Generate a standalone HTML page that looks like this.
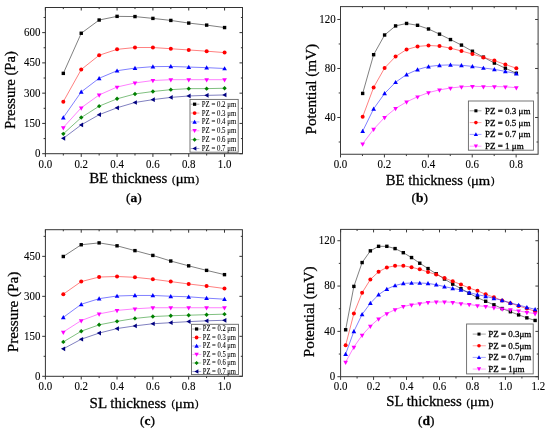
<!DOCTYPE html>
<html><head><meta charset="utf-8"><style>
html,body{margin:0;padding:0;background:#fff;}
body{width:550px;height:433px;overflow:hidden;}
svg{display:block;filter:blur(0.4px);}
text{stroke:#000;stroke-width:0.28px;}
.tk{stroke-width:0.1px;}
</style></head><body>
<svg width="550" height="433" viewBox="0 0 550 433" font-family='"Liberation Serif", serif' fill="#000">
<rect width="550" height="433" fill="#fff"/>
<rect x="45.40" y="7.50" width="197.10" height="146.20" fill="none" stroke="#333" stroke-width="1"/>
<path d="M45.40 153.70v3.2M45.40 7.50v3M81.24 153.70v3.2M81.24 7.50v3M117.07 153.70v3.2M117.07 7.50v3M152.91 153.70v3.2M152.91 7.50v3M188.75 153.70v3.2M188.75 7.50v3M224.58 153.70v3.2M224.58 7.50v3M63.32 153.70v1.8M63.32 7.50v1.6M99.15 153.70v1.8M99.15 7.50v1.6M134.99 153.70v1.8M134.99 7.50v1.6M170.83 153.70v1.8M170.83 7.50v1.6M206.66 153.70v1.8M206.66 7.50v1.6M45.40 153.70h-3.2M242.50 153.70h-3M45.40 123.43h-3.2M242.50 123.43h-3M45.40 93.16h-3.2M242.50 93.16h-3M45.40 62.89h-3.2M242.50 62.89h-3M45.40 32.62h-3.2M242.50 32.62h-3M45.40 138.57h-1.8M242.50 138.57h-1.6M45.40 108.30h-1.8M242.50 108.30h-1.6M45.40 78.03h-1.8M242.50 78.03h-1.6M45.40 47.76h-1.8M242.50 47.76h-1.6M45.40 17.49h-1.8M242.50 17.49h-1.6" stroke="#333" stroke-width="1" fill="none"/>
<text x="45.40" y="167.60" text-anchor="middle" font-size="11.5" textLength="13.66" lengthAdjust="spacingAndGlyphs" class="tk">0.0</text>
<text x="81.24" y="167.60" text-anchor="middle" font-size="11.5" textLength="13.66" lengthAdjust="spacingAndGlyphs" class="tk">0.2</text>
<text x="117.07" y="167.60" text-anchor="middle" font-size="11.5" textLength="13.66" lengthAdjust="spacingAndGlyphs" class="tk">0.4</text>
<text x="152.91" y="167.60" text-anchor="middle" font-size="11.5" textLength="13.66" lengthAdjust="spacingAndGlyphs" class="tk">0.6</text>
<text x="188.75" y="167.60" text-anchor="middle" font-size="11.5" textLength="13.66" lengthAdjust="spacingAndGlyphs" class="tk">0.8</text>
<text x="224.58" y="167.60" text-anchor="middle" font-size="11.5" textLength="13.66" lengthAdjust="spacingAndGlyphs" class="tk">1.0</text>
<text x="40.40" y="157.10" text-anchor="end" font-size="11.5" textLength="5.46" lengthAdjust="spacingAndGlyphs" class="tk">0</text>
<text x="40.40" y="126.83" text-anchor="end" font-size="11.5" textLength="16.39" lengthAdjust="spacingAndGlyphs" class="tk">150</text>
<text x="40.40" y="96.56" text-anchor="end" font-size="11.5" textLength="16.39" lengthAdjust="spacingAndGlyphs" class="tk">300</text>
<text x="40.40" y="66.29" text-anchor="end" font-size="11.5" textLength="16.39" lengthAdjust="spacingAndGlyphs" class="tk">450</text>
<text x="40.40" y="36.02" text-anchor="end" font-size="11.5" textLength="16.39" lengthAdjust="spacingAndGlyphs" class="tk">600</text>
<path d="M63.32 73.37L81.24 33.26L99.15 20.03L117.07 16.36L134.99 16.57L152.91 18.40L170.83 20.43L188.75 23.08L206.66 25.12L224.58 27.56" stroke="#000000" stroke-width="0.5" fill="none"/>
<rect x="61.62" y="71.67" width="3.40" height="3.40" fill="#000000"/>
<rect x="79.54" y="31.56" width="3.40" height="3.40" fill="#000000"/>
<rect x="97.45" y="18.33" width="3.40" height="3.40" fill="#000000"/>
<rect x="115.37" y="14.66" width="3.40" height="3.40" fill="#000000"/>
<rect x="133.29" y="14.87" width="3.40" height="3.40" fill="#000000"/>
<rect x="151.21" y="16.70" width="3.40" height="3.40" fill="#000000"/>
<rect x="169.13" y="18.73" width="3.40" height="3.40" fill="#000000"/>
<rect x="187.05" y="21.38" width="3.40" height="3.40" fill="#000000"/>
<rect x="204.96" y="23.42" width="3.40" height="3.40" fill="#000000"/>
<rect x="222.88" y="25.86" width="3.40" height="3.40" fill="#000000"/>
<path d="M63.32 101.68L81.24 69.51L99.15 55.25L117.07 49.35L134.99 47.52L152.91 47.52L170.83 48.74L188.75 49.96L206.66 51.18L224.58 52.61" stroke="#ff0000" stroke-width="0.5" fill="none"/>
<circle cx="63.32" cy="101.68" r="2.00" fill="#ff0000"/>
<circle cx="81.24" cy="69.51" r="2.00" fill="#ff0000"/>
<circle cx="99.15" cy="55.25" r="2.00" fill="#ff0000"/>
<circle cx="117.07" cy="49.35" r="2.00" fill="#ff0000"/>
<circle cx="134.99" cy="47.52" r="2.00" fill="#ff0000"/>
<circle cx="152.91" cy="47.52" r="2.00" fill="#ff0000"/>
<circle cx="170.83" cy="48.74" r="2.00" fill="#ff0000"/>
<circle cx="188.75" cy="49.96" r="2.00" fill="#ff0000"/>
<circle cx="206.66" cy="51.18" r="2.00" fill="#ff0000"/>
<circle cx="224.58" cy="52.61" r="2.00" fill="#ff0000"/>
<path d="M63.32 117.56L81.24 91.90L99.15 78.26L117.07 70.73L134.99 68.08L152.91 66.65L170.83 66.45L188.75 67.06L206.66 67.67L224.58 68.49" stroke="#0000ff" stroke-width="0.5" fill="none"/>
<path d="M63.32 115.21L65.67 119.44L60.97 119.44Z" fill="#0000ff"/>
<path d="M81.24 89.55L83.59 93.78L78.89 93.78Z" fill="#0000ff"/>
<path d="M99.15 75.91L101.50 80.14L96.80 80.14Z" fill="#0000ff"/>
<path d="M117.07 68.38L119.42 72.61L114.72 72.61Z" fill="#0000ff"/>
<path d="M134.99 65.73L137.34 69.96L132.64 69.96Z" fill="#0000ff"/>
<path d="M152.91 64.30L155.26 68.53L150.56 68.53Z" fill="#0000ff"/>
<path d="M170.83 64.10L173.18 68.33L168.48 68.33Z" fill="#0000ff"/>
<path d="M188.75 64.71L191.10 68.94L186.40 68.94Z" fill="#0000ff"/>
<path d="M206.66 65.32L209.01 69.55L204.31 69.55Z" fill="#0000ff"/>
<path d="M224.58 66.14L226.93 70.37L222.23 70.37Z" fill="#0000ff"/>
<path d="M63.32 127.53L81.24 107.78L99.15 94.96L117.07 87.02L134.99 82.94L152.91 80.50L170.83 79.69L188.75 79.69L206.66 79.69L224.58 79.69" stroke="#ff00ff" stroke-width="0.5" fill="none"/>
<path d="M63.32 130.38L65.67 126.15L60.97 126.15Z" fill="#ff00ff"/>
<path d="M81.24 110.63L83.59 106.40L78.89 106.40Z" fill="#ff00ff"/>
<path d="M99.15 97.81L101.50 93.58L96.80 93.58Z" fill="#ff00ff"/>
<path d="M117.07 89.87L119.42 85.64L114.72 85.64Z" fill="#ff00ff"/>
<path d="M134.99 85.79L137.34 81.56L132.64 81.56Z" fill="#ff00ff"/>
<path d="M152.91 83.35L155.26 79.12L150.56 79.12Z" fill="#ff00ff"/>
<path d="M170.83 82.54L173.18 78.31L168.48 78.31Z" fill="#ff00ff"/>
<path d="M188.75 82.54L191.10 78.31L186.40 78.31Z" fill="#ff00ff"/>
<path d="M206.66 82.54L209.01 78.31L204.31 78.31Z" fill="#ff00ff"/>
<path d="M224.58 82.54L226.93 78.31L222.23 78.31Z" fill="#ff00ff"/>
<path d="M63.32 133.85L81.24 117.56L99.15 106.16L117.07 98.83L134.99 93.94L152.91 91.50L170.83 89.66L188.75 88.64L206.66 88.64L224.58 88.24" stroke="#008000" stroke-width="0.5" fill="none"/>
<path d="M63.32 131.65L65.52 133.85L63.32 136.05L61.12 133.85Z" fill="#008000"/>
<path d="M81.24 115.36L83.44 117.56L81.24 119.76L79.04 117.56Z" fill="#008000"/>
<path d="M99.15 103.95L101.35 106.16L99.15 108.36L96.95 106.16Z" fill="#008000"/>
<path d="M117.07 96.62L119.27 98.83L117.07 101.03L114.87 98.83Z" fill="#008000"/>
<path d="M134.99 91.74L137.19 93.94L134.99 96.14L132.79 93.94Z" fill="#008000"/>
<path d="M152.91 89.30L155.11 91.50L152.91 93.70L150.71 91.50Z" fill="#008000"/>
<path d="M170.83 87.46L173.03 89.66L170.83 91.86L168.63 89.66Z" fill="#008000"/>
<path d="M188.75 86.44L190.95 88.64L188.75 90.84L186.55 88.64Z" fill="#008000"/>
<path d="M206.66 86.44L208.86 88.64L206.66 90.84L204.46 88.64Z" fill="#008000"/>
<path d="M224.58 86.04L226.78 88.24L224.58 90.44L222.38 88.24Z" fill="#008000"/>
<path d="M63.32 138.33L81.24 124.89L99.15 114.71L117.07 107.78L134.99 102.49L152.91 99.64L170.83 97.40L188.75 95.97L206.66 95.36L224.58 94.96" stroke="#000080" stroke-width="0.5" fill="none"/>
<path d="M60.97 138.33L65.20 135.98L65.20 140.68Z" fill="#000080"/>
<path d="M78.89 124.89L83.12 122.54L83.12 127.24Z" fill="#000080"/>
<path d="M96.80 114.71L101.03 112.36L101.03 117.06Z" fill="#000080"/>
<path d="M114.72 107.78L118.95 105.43L118.95 110.13Z" fill="#000080"/>
<path d="M132.64 102.49L136.87 100.14L136.87 104.84Z" fill="#000080"/>
<path d="M150.56 99.64L154.79 97.29L154.79 101.99Z" fill="#000080"/>
<path d="M168.48 97.40L172.71 95.05L172.71 99.75Z" fill="#000080"/>
<path d="M186.40 95.97L190.63 93.62L190.63 98.32Z" fill="#000080"/>
<path d="M204.31 95.36L208.54 93.01L208.54 97.71Z" fill="#000080"/>
<path d="M222.23 94.96L226.46 92.61L226.46 97.31Z" fill="#000080"/>
<rect x="45.40" y="229.70" width="197.00" height="146.60" fill="none" stroke="#333" stroke-width="1"/>
<path d="M45.40 376.30v3.2M45.40 229.70v3M81.22 376.30v3.2M81.22 229.70v3M117.04 376.30v3.2M117.04 229.70v3M152.85 376.30v3.2M152.85 229.70v3M188.67 376.30v3.2M188.67 229.70v3M224.49 376.30v3.2M224.49 229.70v3M63.31 376.30v1.8M63.31 229.70v1.6M99.13 376.30v1.8M99.13 229.70v1.6M134.95 376.30v1.8M134.95 229.70v1.6M170.76 376.30v1.8M170.76 229.70v1.6M206.58 376.30v1.8M206.58 229.70v1.6M45.40 376.30h-3.2M242.40 376.30h-3M45.40 336.32h-3.2M242.40 336.32h-3M45.40 296.34h-3.2M242.40 296.34h-3M45.40 256.35h-3.2M242.40 256.35h-3M45.40 356.31h-1.8M242.40 356.31h-1.6M45.40 316.33h-1.8M242.40 316.33h-1.6M45.40 276.35h-1.8M242.40 276.35h-1.6M45.40 236.36h-1.8M242.40 236.36h-1.6" stroke="#333" stroke-width="1" fill="none"/>
<text x="45.40" y="390.20" text-anchor="middle" font-size="11.5" textLength="13.66" lengthAdjust="spacingAndGlyphs" class="tk">0.0</text>
<text x="81.22" y="390.20" text-anchor="middle" font-size="11.5" textLength="13.66" lengthAdjust="spacingAndGlyphs" class="tk">0.2</text>
<text x="117.04" y="390.20" text-anchor="middle" font-size="11.5" textLength="13.66" lengthAdjust="spacingAndGlyphs" class="tk">0.4</text>
<text x="152.85" y="390.20" text-anchor="middle" font-size="11.5" textLength="13.66" lengthAdjust="spacingAndGlyphs" class="tk">0.6</text>
<text x="188.67" y="390.20" text-anchor="middle" font-size="11.5" textLength="13.66" lengthAdjust="spacingAndGlyphs" class="tk">0.8</text>
<text x="224.49" y="390.20" text-anchor="middle" font-size="11.5" textLength="13.66" lengthAdjust="spacingAndGlyphs" class="tk">1.0</text>
<text x="40.40" y="379.70" text-anchor="end" font-size="11.5" textLength="5.46" lengthAdjust="spacingAndGlyphs" class="tk">0</text>
<text x="40.40" y="339.72" text-anchor="end" font-size="11.5" textLength="16.39" lengthAdjust="spacingAndGlyphs" class="tk">150</text>
<text x="40.40" y="299.74" text-anchor="end" font-size="11.5" textLength="16.39" lengthAdjust="spacingAndGlyphs" class="tk">300</text>
<text x="40.40" y="259.75" text-anchor="end" font-size="11.5" textLength="16.39" lengthAdjust="spacingAndGlyphs" class="tk">450</text>
<path d="M63.31 256.49L81.22 244.75L99.13 242.88L117.04 245.81L134.95 250.62L152.85 255.42L170.76 261.03L188.67 265.83L206.58 270.37L224.49 274.64" stroke="#000000" stroke-width="0.5" fill="none"/>
<rect x="61.61" y="254.79" width="3.40" height="3.40" fill="#000000"/>
<rect x="79.52" y="243.05" width="3.40" height="3.40" fill="#000000"/>
<rect x="97.43" y="241.18" width="3.40" height="3.40" fill="#000000"/>
<rect x="115.34" y="244.11" width="3.40" height="3.40" fill="#000000"/>
<rect x="133.25" y="248.92" width="3.40" height="3.40" fill="#000000"/>
<rect x="151.15" y="253.72" width="3.40" height="3.40" fill="#000000"/>
<rect x="169.06" y="259.33" width="3.40" height="3.40" fill="#000000"/>
<rect x="186.97" y="264.13" width="3.40" height="3.40" fill="#000000"/>
<rect x="204.88" y="268.67" width="3.40" height="3.40" fill="#000000"/>
<rect x="222.79" y="272.94" width="3.40" height="3.40" fill="#000000"/>
<path d="M63.31 294.13L81.22 281.58L99.13 277.04L117.04 276.51L134.95 277.31L152.85 279.18L170.76 281.58L188.67 283.98L206.58 286.12L224.49 288.52" stroke="#ff0000" stroke-width="0.5" fill="none"/>
<circle cx="63.31" cy="294.13" r="2.00" fill="#ff0000"/>
<circle cx="81.22" cy="281.58" r="2.00" fill="#ff0000"/>
<circle cx="99.13" cy="277.04" r="2.00" fill="#ff0000"/>
<circle cx="117.04" cy="276.51" r="2.00" fill="#ff0000"/>
<circle cx="134.95" cy="277.31" r="2.00" fill="#ff0000"/>
<circle cx="152.85" cy="279.18" r="2.00" fill="#ff0000"/>
<circle cx="170.76" cy="281.58" r="2.00" fill="#ff0000"/>
<circle cx="188.67" cy="283.98" r="2.00" fill="#ff0000"/>
<circle cx="206.58" cy="286.12" r="2.00" fill="#ff0000"/>
<circle cx="224.49" cy="288.52" r="2.00" fill="#ff0000"/>
<path d="M63.31 317.35L81.22 304.27L99.13 298.66L117.04 295.99L134.95 295.46L152.85 295.46L170.76 296.26L188.67 296.79L206.58 298.13L224.49 299.20" stroke="#0000ff" stroke-width="0.5" fill="none"/>
<path d="M63.31 315.00L65.66 319.23L60.96 319.23Z" fill="#0000ff"/>
<path d="M81.22 301.92L83.57 306.15L78.87 306.15Z" fill="#0000ff"/>
<path d="M99.13 296.31L101.48 300.54L96.78 300.54Z" fill="#0000ff"/>
<path d="M117.04 293.64L119.39 297.87L114.69 297.87Z" fill="#0000ff"/>
<path d="M134.95 293.11L137.30 297.34L132.60 297.34Z" fill="#0000ff"/>
<path d="M152.85 293.11L155.20 297.34L150.50 297.34Z" fill="#0000ff"/>
<path d="M170.76 293.91L173.11 298.14L168.41 298.14Z" fill="#0000ff"/>
<path d="M188.67 294.44L191.02 298.67L186.32 298.67Z" fill="#0000ff"/>
<path d="M206.58 295.78L208.93 300.01L204.23 300.01Z" fill="#0000ff"/>
<path d="M224.49 296.85L226.84 301.08L222.14 301.08Z" fill="#0000ff"/>
<path d="M63.31 332.03L81.22 320.55L99.13 313.88L117.04 310.41L134.95 308.81L152.85 307.74L170.76 307.74L188.67 307.74L206.58 307.74L224.49 307.74" stroke="#ff00ff" stroke-width="0.5" fill="none"/>
<path d="M63.31 334.88L65.66 330.65L60.96 330.65Z" fill="#ff00ff"/>
<path d="M81.22 323.40L83.57 319.17L78.87 319.17Z" fill="#ff00ff"/>
<path d="M99.13 316.73L101.48 312.50L96.78 312.50Z" fill="#ff00ff"/>
<path d="M117.04 313.26L119.39 309.03L114.69 309.03Z" fill="#ff00ff"/>
<path d="M134.95 311.66L137.30 307.43L132.60 307.43Z" fill="#ff00ff"/>
<path d="M152.85 310.59L155.20 306.36L150.50 306.36Z" fill="#ff00ff"/>
<path d="M170.76 310.59L173.11 306.36L168.41 306.36Z" fill="#ff00ff"/>
<path d="M188.67 310.59L191.02 306.36L186.32 306.36Z" fill="#ff00ff"/>
<path d="M206.58 310.59L208.93 306.36L204.23 306.36Z" fill="#ff00ff"/>
<path d="M224.49 310.59L226.84 306.36L222.14 306.36Z" fill="#ff00ff"/>
<path d="M63.31 341.90L81.22 331.23L99.13 324.82L117.04 321.35L134.95 318.41L152.85 316.55L170.76 315.74L188.67 315.21L206.58 314.68L224.49 314.14" stroke="#008000" stroke-width="0.5" fill="none"/>
<path d="M63.31 339.70L65.51 341.90L63.31 344.10L61.11 341.90Z" fill="#008000"/>
<path d="M81.22 329.03L83.42 331.23L81.22 333.43L79.02 331.23Z" fill="#008000"/>
<path d="M99.13 322.62L101.33 324.82L99.13 327.02L96.93 324.82Z" fill="#008000"/>
<path d="M117.04 319.15L119.24 321.35L117.04 323.55L114.84 321.35Z" fill="#008000"/>
<path d="M134.95 316.21L137.15 318.41L134.95 320.61L132.75 318.41Z" fill="#008000"/>
<path d="M152.85 314.35L155.05 316.55L152.85 318.75L150.65 316.55Z" fill="#008000"/>
<path d="M170.76 313.54L172.96 315.74L170.76 317.94L168.56 315.74Z" fill="#008000"/>
<path d="M188.67 313.01L190.87 315.21L188.67 317.41L186.47 315.21Z" fill="#008000"/>
<path d="M206.58 312.48L208.78 314.68L206.58 316.88L204.38 314.68Z" fill="#008000"/>
<path d="M224.49 311.94L226.69 314.14L224.49 316.34L222.29 314.14Z" fill="#008000"/>
<path d="M63.31 348.84L81.22 339.23L99.13 333.09L117.04 328.56L134.95 325.89L152.85 323.75L170.76 322.68L188.67 321.62L206.58 320.82L224.49 320.28" stroke="#000080" stroke-width="0.5" fill="none"/>
<path d="M60.96 348.84L65.19 346.49L65.19 351.19Z" fill="#000080"/>
<path d="M78.87 339.23L83.10 336.88L83.10 341.58Z" fill="#000080"/>
<path d="M96.78 333.09L101.01 330.74L101.01 335.44Z" fill="#000080"/>
<path d="M114.69 328.56L118.92 326.21L118.92 330.91Z" fill="#000080"/>
<path d="M132.60 325.89L136.83 323.54L136.83 328.24Z" fill="#000080"/>
<path d="M150.50 323.75L154.73 321.40L154.73 326.10Z" fill="#000080"/>
<path d="M168.41 322.68L172.64 320.33L172.64 325.03Z" fill="#000080"/>
<path d="M186.32 321.62L190.55 319.27L190.55 323.97Z" fill="#000080"/>
<path d="M204.23 320.82L208.46 318.47L208.46 323.17Z" fill="#000080"/>
<path d="M222.14 320.28L226.37 317.93L226.37 322.63Z" fill="#000080"/>
<rect x="340.50" y="6.60" width="197.60" height="147.65" fill="none" stroke="#3a3a3a" stroke-width="1"/>
<path d="M340.50 154.25v3.2M340.50 6.60v3M384.41 154.25v3.2M384.41 6.60v3M428.32 154.25v3.2M428.32 6.60v3M472.23 154.25v3.2M472.23 6.60v3M516.14 154.25v3.2M516.14 6.60v3M362.46 154.25v1.8M362.46 6.60v1.6M406.37 154.25v1.8M406.37 6.60v1.6M450.28 154.25v1.8M450.28 6.60v1.6M494.19 154.25v1.8M494.19 6.60v1.6M340.50 117.49h-3.2M538.10 117.49h-3M340.50 68.48h-3.2M538.10 68.48h-3M340.50 19.47h-3.2M538.10 19.47h-3M340.50 142.00h-1.8M538.10 142.00h-1.6M340.50 92.98h-1.8M538.10 92.98h-1.6M340.50 43.97h-1.8M538.10 43.97h-1.6" stroke="#3a3a3a" stroke-width="1" fill="none"/>
<text x="340.50" y="168.00" text-anchor="middle" font-size="11.5" textLength="13.66" lengthAdjust="spacingAndGlyphs" class="tk">0.0</text>
<text x="384.41" y="168.00" text-anchor="middle" font-size="11.5" textLength="13.66" lengthAdjust="spacingAndGlyphs" class="tk">0.2</text>
<text x="428.32" y="168.00" text-anchor="middle" font-size="11.5" textLength="13.66" lengthAdjust="spacingAndGlyphs" class="tk">0.4</text>
<text x="472.23" y="168.00" text-anchor="middle" font-size="11.5" textLength="13.66" lengthAdjust="spacingAndGlyphs" class="tk">0.6</text>
<text x="516.14" y="168.00" text-anchor="middle" font-size="11.5" textLength="13.66" lengthAdjust="spacingAndGlyphs" class="tk">0.8</text>
<text x="335.60" y="120.89" text-anchor="end" font-size="11.5" textLength="10.92" lengthAdjust="spacingAndGlyphs" class="tk">40</text>
<text x="335.60" y="71.88" text-anchor="end" font-size="11.5" textLength="10.92" lengthAdjust="spacingAndGlyphs" class="tk">80</text>
<text x="335.60" y="22.87" text-anchor="end" font-size="11.5" textLength="16.39" lengthAdjust="spacingAndGlyphs" class="tk">120</text>
<path d="M362.66 93.44L373.63 54.69L384.61 35.01L395.59 25.91L406.57 23.45L417.54 25.30L428.52 28.99L439.50 34.15L450.48 39.56L461.46 45.10L472.43 51.25L483.41 57.15L494.39 63.06L505.37 68.22L516.34 73.27" stroke="#000000" stroke-width="0.5" fill="none"/>
<rect x="360.96" y="91.74" width="3.40" height="3.40" fill="#000000"/>
<rect x="371.93" y="52.99" width="3.40" height="3.40" fill="#000000"/>
<rect x="382.91" y="33.31" width="3.40" height="3.40" fill="#000000"/>
<rect x="393.89" y="24.21" width="3.40" height="3.40" fill="#000000"/>
<rect x="404.87" y="21.75" width="3.40" height="3.40" fill="#000000"/>
<rect x="415.84" y="23.60" width="3.40" height="3.40" fill="#000000"/>
<rect x="426.82" y="27.29" width="3.40" height="3.40" fill="#000000"/>
<rect x="437.80" y="32.45" width="3.40" height="3.40" fill="#000000"/>
<rect x="448.78" y="37.86" width="3.40" height="3.40" fill="#000000"/>
<rect x="459.76" y="43.40" width="3.40" height="3.40" fill="#000000"/>
<rect x="470.73" y="49.55" width="3.40" height="3.40" fill="#000000"/>
<rect x="481.71" y="55.45" width="3.40" height="3.40" fill="#000000"/>
<rect x="492.69" y="61.36" width="3.40" height="3.40" fill="#000000"/>
<rect x="503.67" y="66.52" width="3.40" height="3.40" fill="#000000"/>
<rect x="514.64" y="71.57" width="3.40" height="3.40" fill="#000000"/>
<path d="M362.66 116.81L373.63 87.41L384.61 67.98L395.59 56.54L406.57 49.53L417.54 46.45L428.52 45.47L439.50 46.08L450.48 48.17L461.46 51.00L472.43 54.08L483.41 57.40L494.39 60.60L505.37 64.53L516.34 68.22" stroke="#ff0000" stroke-width="0.5" fill="none"/>
<circle cx="362.66" cy="116.81" r="2.00" fill="#ff0000"/>
<circle cx="373.63" cy="87.41" r="2.00" fill="#ff0000"/>
<circle cx="384.61" cy="67.98" r="2.00" fill="#ff0000"/>
<circle cx="395.59" cy="56.54" r="2.00" fill="#ff0000"/>
<circle cx="406.57" cy="49.53" r="2.00" fill="#ff0000"/>
<circle cx="417.54" cy="46.45" r="2.00" fill="#ff0000"/>
<circle cx="428.52" cy="45.47" r="2.00" fill="#ff0000"/>
<circle cx="439.50" cy="46.08" r="2.00" fill="#ff0000"/>
<circle cx="450.48" cy="48.17" r="2.00" fill="#ff0000"/>
<circle cx="461.46" cy="51.00" r="2.00" fill="#ff0000"/>
<circle cx="472.43" cy="54.08" r="2.00" fill="#ff0000"/>
<circle cx="483.41" cy="57.40" r="2.00" fill="#ff0000"/>
<circle cx="494.39" cy="60.60" r="2.00" fill="#ff0000"/>
<circle cx="505.37" cy="64.53" r="2.00" fill="#ff0000"/>
<circle cx="516.34" cy="68.22" r="2.00" fill="#ff0000"/>
<path d="M362.66 131.20L373.63 108.81L384.61 93.44L395.59 82.24L406.57 74.50L417.54 69.58L428.52 66.50L439.50 65.27L450.48 64.90L461.46 65.27L472.43 66.38L483.41 67.98L494.39 69.33L505.37 71.42L516.34 73.51" stroke="#0000ff" stroke-width="0.5" fill="none"/>
<path d="M362.66 128.85L365.01 133.08L360.31 133.08Z" fill="#0000ff"/>
<path d="M373.63 106.46L375.98 110.69L371.28 110.69Z" fill="#0000ff"/>
<path d="M384.61 91.09L386.96 95.32L382.26 95.32Z" fill="#0000ff"/>
<path d="M395.59 79.89L397.94 84.12L393.24 84.12Z" fill="#0000ff"/>
<path d="M406.57 72.15L408.92 76.38L404.22 76.38Z" fill="#0000ff"/>
<path d="M417.54 67.23L419.89 71.46L415.19 71.46Z" fill="#0000ff"/>
<path d="M428.52 64.15L430.87 68.38L426.17 68.38Z" fill="#0000ff"/>
<path d="M439.50 62.92L441.85 67.15L437.15 67.15Z" fill="#0000ff"/>
<path d="M450.48 62.55L452.83 66.78L448.13 66.78Z" fill="#0000ff"/>
<path d="M461.46 62.92L463.81 67.15L459.11 67.15Z" fill="#0000ff"/>
<path d="M472.43 64.03L474.78 68.26L470.08 68.26Z" fill="#0000ff"/>
<path d="M483.41 65.63L485.76 69.86L481.06 69.86Z" fill="#0000ff"/>
<path d="M494.39 66.98L496.74 71.21L492.04 71.21Z" fill="#0000ff"/>
<path d="M505.37 69.07L507.72 73.30L503.02 73.30Z" fill="#0000ff"/>
<path d="M516.34 71.16L518.69 75.39L513.99 75.39Z" fill="#0000ff"/>
<path d="M362.66 143.87L373.63 129.23L384.61 117.42L395.59 108.44L406.57 101.92L417.54 96.76L428.52 92.58L439.50 89.87L450.48 88.03L461.46 86.80L472.43 86.30L483.41 86.55L494.39 86.55L505.37 86.80L516.34 87.66" stroke="#ff00ff" stroke-width="0.5" fill="none"/>
<path d="M362.66 146.72L365.01 142.49L360.31 142.49Z" fill="#ff00ff"/>
<path d="M373.63 132.08L375.98 127.85L371.28 127.85Z" fill="#ff00ff"/>
<path d="M384.61 120.27L386.96 116.04L382.26 116.04Z" fill="#ff00ff"/>
<path d="M395.59 111.29L397.94 107.06L393.24 107.06Z" fill="#ff00ff"/>
<path d="M406.57 104.77L408.92 100.54L404.22 100.54Z" fill="#ff00ff"/>
<path d="M417.54 99.61L419.89 95.38L415.19 95.38Z" fill="#ff00ff"/>
<path d="M428.52 95.43L430.87 91.20L426.17 91.20Z" fill="#ff00ff"/>
<path d="M439.50 92.72L441.85 88.49L437.15 88.49Z" fill="#ff00ff"/>
<path d="M450.48 90.88L452.83 86.65L448.13 86.65Z" fill="#ff00ff"/>
<path d="M461.46 89.65L463.81 85.42L459.11 85.42Z" fill="#ff00ff"/>
<path d="M472.43 89.15L474.78 84.92L470.08 84.92Z" fill="#ff00ff"/>
<path d="M483.41 89.40L485.76 85.17L481.06 85.17Z" fill="#ff00ff"/>
<path d="M494.39 89.40L496.74 85.17L492.04 85.17Z" fill="#ff00ff"/>
<path d="M505.37 89.65L507.72 85.42L503.02 85.42Z" fill="#ff00ff"/>
<path d="M516.34 90.51L518.69 86.28L513.99 86.28Z" fill="#ff00ff"/>
<rect x="340.60" y="229.40" width="197.80" height="147.30" fill="none" stroke="#3a3a3a" stroke-width="1"/>
<path d="M340.60 376.70v3.2M340.60 229.40v3M373.57 376.70v3.2M373.57 229.40v3M406.53 376.70v3.2M406.53 229.40v3M439.50 376.70v3.2M439.50 229.40v3M472.47 376.70v3.2M472.47 229.40v3M505.43 376.70v3.2M505.43 229.40v3M538.40 376.70v3.2M538.40 229.40v3M357.08 376.70v1.8M357.08 229.40v1.6M390.05 376.70v1.8M390.05 229.40v1.6M423.02 376.70v1.8M423.02 229.40v1.6M455.98 376.70v1.8M455.98 229.40v1.6M488.95 376.70v1.8M488.95 229.40v1.6M521.92 376.70v1.8M521.92 229.40v1.6M340.60 376.70h-3.2M538.40 376.70h-3M340.60 331.38h-3.2M538.40 331.38h-3M340.60 286.05h-3.2M538.40 286.05h-3M340.60 240.73h-3.2M538.40 240.73h-3M340.60 354.04h-1.8M538.40 354.04h-1.6M340.60 308.72h-1.8M538.40 308.72h-1.6M340.60 263.39h-1.8M538.40 263.39h-1.6" stroke="#3a3a3a" stroke-width="1" fill="none"/>
<text x="340.60" y="390.40" text-anchor="middle" font-size="11.5" textLength="13.66" lengthAdjust="spacingAndGlyphs" class="tk">0.0</text>
<text x="373.57" y="390.40" text-anchor="middle" font-size="11.5" textLength="13.66" lengthAdjust="spacingAndGlyphs" class="tk">0.2</text>
<text x="406.53" y="390.40" text-anchor="middle" font-size="11.5" textLength="13.66" lengthAdjust="spacingAndGlyphs" class="tk">0.4</text>
<text x="439.50" y="390.40" text-anchor="middle" font-size="11.5" textLength="13.66" lengthAdjust="spacingAndGlyphs" class="tk">0.6</text>
<text x="472.47" y="390.40" text-anchor="middle" font-size="11.5" textLength="13.66" lengthAdjust="spacingAndGlyphs" class="tk">0.8</text>
<text x="505.43" y="390.40" text-anchor="middle" font-size="11.5" textLength="13.66" lengthAdjust="spacingAndGlyphs" class="tk">1.0</text>
<text x="538.40" y="390.40" text-anchor="middle" font-size="11.5" textLength="13.66" lengthAdjust="spacingAndGlyphs" class="tk">1.2</text>
<text x="335.20" y="380.10" text-anchor="end" font-size="11.5" textLength="5.46" lengthAdjust="spacingAndGlyphs" class="tk">0</text>
<text x="335.20" y="334.78" text-anchor="end" font-size="11.5" textLength="10.92" lengthAdjust="spacingAndGlyphs" class="tk">40</text>
<text x="335.20" y="289.45" text-anchor="end" font-size="11.5" textLength="10.92" lengthAdjust="spacingAndGlyphs" class="tk">80</text>
<text x="335.20" y="244.13" text-anchor="end" font-size="11.5" textLength="16.39" lengthAdjust="spacingAndGlyphs" class="tk">120</text>
<path d="M345.64 329.77L353.88 286.40L362.12 262.55L370.36 250.86L378.59 246.32L386.83 246.32L395.07 248.59L403.31 252.68L411.54 257.56L419.78 263.23L428.02 268.57L436.25 273.79L444.49 279.02L452.73 284.13L460.97 288.67L469.20 293.21L477.44 297.64L485.68 301.27L493.92 304.79L502.15 308.54L510.39 311.72L518.63 314.89L526.87 317.85L535.11 320.46" stroke="#000000" stroke-width="0.5" fill="none"/>
<rect x="343.94" y="328.07" width="3.40" height="3.40" fill="#000000"/>
<rect x="352.18" y="284.70" width="3.40" height="3.40" fill="#000000"/>
<rect x="360.42" y="260.85" width="3.40" height="3.40" fill="#000000"/>
<rect x="368.66" y="249.16" width="3.40" height="3.40" fill="#000000"/>
<rect x="376.89" y="244.62" width="3.40" height="3.40" fill="#000000"/>
<rect x="385.13" y="244.62" width="3.40" height="3.40" fill="#000000"/>
<rect x="393.37" y="246.89" width="3.40" height="3.40" fill="#000000"/>
<rect x="401.61" y="250.98" width="3.40" height="3.40" fill="#000000"/>
<rect x="409.84" y="255.86" width="3.40" height="3.40" fill="#000000"/>
<rect x="418.08" y="261.53" width="3.40" height="3.40" fill="#000000"/>
<rect x="426.32" y="266.87" width="3.40" height="3.40" fill="#000000"/>
<rect x="434.56" y="272.09" width="3.40" height="3.40" fill="#000000"/>
<rect x="442.79" y="277.32" width="3.40" height="3.40" fill="#000000"/>
<rect x="451.03" y="282.43" width="3.40" height="3.40" fill="#000000"/>
<rect x="459.27" y="286.97" width="3.40" height="3.40" fill="#000000"/>
<rect x="467.50" y="291.51" width="3.40" height="3.40" fill="#000000"/>
<rect x="475.74" y="295.94" width="3.40" height="3.40" fill="#000000"/>
<rect x="483.98" y="299.57" width="3.40" height="3.40" fill="#000000"/>
<rect x="492.22" y="303.09" width="3.40" height="3.40" fill="#000000"/>
<rect x="500.45" y="306.84" width="3.40" height="3.40" fill="#000000"/>
<rect x="508.69" y="310.02" width="3.40" height="3.40" fill="#000000"/>
<rect x="516.93" y="313.19" width="3.40" height="3.40" fill="#000000"/>
<rect x="525.17" y="316.15" width="3.40" height="3.40" fill="#000000"/>
<rect x="533.40" y="318.76" width="3.40" height="3.40" fill="#000000"/>
<path d="M345.64 345.32L353.88 313.53L362.12 292.75L370.36 279.47L378.59 271.75L386.83 267.44L395.07 265.85L403.31 265.85L411.54 267.21L419.78 269.37L428.02 271.98L436.25 274.59L444.49 277.99L452.73 281.29L460.97 284.47L469.20 287.99L477.44 290.82L485.68 294.34L493.92 297.18L502.15 300.48L510.39 303.20L518.63 305.92L526.87 308.54L535.11 311.26" stroke="#ff0000" stroke-width="0.5" fill="none"/>
<circle cx="345.64" cy="345.32" r="2.00" fill="#ff0000"/>
<circle cx="353.88" cy="313.53" r="2.00" fill="#ff0000"/>
<circle cx="362.12" cy="292.75" r="2.00" fill="#ff0000"/>
<circle cx="370.36" cy="279.47" r="2.00" fill="#ff0000"/>
<circle cx="378.59" cy="271.75" r="2.00" fill="#ff0000"/>
<circle cx="386.83" cy="267.44" r="2.00" fill="#ff0000"/>
<circle cx="395.07" cy="265.85" r="2.00" fill="#ff0000"/>
<circle cx="403.31" cy="265.85" r="2.00" fill="#ff0000"/>
<circle cx="411.54" cy="267.21" r="2.00" fill="#ff0000"/>
<circle cx="419.78" cy="269.37" r="2.00" fill="#ff0000"/>
<circle cx="428.02" cy="271.98" r="2.00" fill="#ff0000"/>
<circle cx="436.25" cy="274.59" r="2.00" fill="#ff0000"/>
<circle cx="444.49" cy="277.99" r="2.00" fill="#ff0000"/>
<circle cx="452.73" cy="281.29" r="2.00" fill="#ff0000"/>
<circle cx="460.97" cy="284.47" r="2.00" fill="#ff0000"/>
<circle cx="469.20" cy="287.99" r="2.00" fill="#ff0000"/>
<circle cx="477.44" cy="290.82" r="2.00" fill="#ff0000"/>
<circle cx="485.68" cy="294.34" r="2.00" fill="#ff0000"/>
<circle cx="493.92" cy="297.18" r="2.00" fill="#ff0000"/>
<circle cx="502.15" cy="300.48" r="2.00" fill="#ff0000"/>
<circle cx="510.39" cy="303.20" r="2.00" fill="#ff0000"/>
<circle cx="518.63" cy="305.92" r="2.00" fill="#ff0000"/>
<circle cx="526.87" cy="308.54" r="2.00" fill="#ff0000"/>
<circle cx="535.11" cy="311.26" r="2.00" fill="#ff0000"/>
<path d="M345.64 354.07L353.88 331.36L362.12 314.44L370.36 303.20L378.59 294.68L386.83 289.01L395.07 285.49L403.31 283.44L411.54 282.99L419.78 282.99L428.02 283.44L436.25 284.69L444.49 286.62L452.73 288.33L460.97 289.92L469.20 292.53L477.44 294.68L485.68 296.27L493.92 298.43L502.15 300.36L510.39 302.86L518.63 305.02L526.87 307.29L535.11 309.33" stroke="#0000ff" stroke-width="0.5" fill="none"/>
<path d="M345.64 351.72L347.99 355.95L343.29 355.95Z" fill="#0000ff"/>
<path d="M353.88 329.01L356.23 333.24L351.53 333.24Z" fill="#0000ff"/>
<path d="M362.12 312.09L364.47 316.32L359.77 316.32Z" fill="#0000ff"/>
<path d="M370.36 300.85L372.71 305.08L368.00 305.08Z" fill="#0000ff"/>
<path d="M378.59 292.33L380.94 296.56L376.24 296.56Z" fill="#0000ff"/>
<path d="M386.83 286.66L389.18 290.89L384.48 290.89Z" fill="#0000ff"/>
<path d="M395.07 283.14L397.42 287.37L392.72 287.37Z" fill="#0000ff"/>
<path d="M403.31 281.09L405.66 285.32L400.95 285.32Z" fill="#0000ff"/>
<path d="M411.54 280.64L413.89 284.87L409.19 284.87Z" fill="#0000ff"/>
<path d="M419.78 280.64L422.13 284.87L417.43 284.87Z" fill="#0000ff"/>
<path d="M428.02 281.09L430.37 285.32L425.67 285.32Z" fill="#0000ff"/>
<path d="M436.25 282.34L438.61 286.57L433.90 286.57Z" fill="#0000ff"/>
<path d="M444.49 284.27L446.84 288.50L442.14 288.50Z" fill="#0000ff"/>
<path d="M452.73 285.98L455.08 290.21L450.38 290.21Z" fill="#0000ff"/>
<path d="M460.97 287.57L463.32 291.80L458.62 291.80Z" fill="#0000ff"/>
<path d="M469.20 290.18L471.56 294.41L466.85 294.41Z" fill="#0000ff"/>
<path d="M477.44 292.33L479.79 296.56L475.09 296.56Z" fill="#0000ff"/>
<path d="M485.68 293.92L488.03 298.15L483.33 298.15Z" fill="#0000ff"/>
<path d="M493.92 296.08L496.27 300.31L491.57 300.31Z" fill="#0000ff"/>
<path d="M502.15 298.01L504.50 302.24L499.80 302.24Z" fill="#0000ff"/>
<path d="M510.39 300.51L512.74 304.74L508.04 304.74Z" fill="#0000ff"/>
<path d="M518.63 302.67L520.98 306.90L516.28 306.90Z" fill="#0000ff"/>
<path d="M526.87 304.94L529.22 309.17L524.52 309.17Z" fill="#0000ff"/>
<path d="M535.11 306.98L537.46 311.21L532.75 311.21Z" fill="#0000ff"/>
<path d="M345.64 362.13L353.88 347.03L362.12 335.22L370.36 326.13L378.59 318.87L386.83 313.53L395.07 309.67L403.31 306.49L411.54 304.79L419.78 303.54L428.02 302.29L436.25 301.95L444.49 301.95L452.73 302.29L460.97 303.54L469.20 304.45L477.44 305.70L485.68 306.49L493.92 307.63L502.15 308.88L510.39 309.67L518.63 310.92L526.87 312.40L535.11 313.65" stroke="#ff00ff" stroke-width="0.5" fill="none"/>
<path d="M345.64 364.98L347.99 360.75L343.29 360.75Z" fill="#ff00ff"/>
<path d="M353.88 349.88L356.23 345.65L351.53 345.65Z" fill="#ff00ff"/>
<path d="M362.12 338.07L364.47 333.84L359.77 333.84Z" fill="#ff00ff"/>
<path d="M370.36 328.98L372.71 324.75L368.00 324.75Z" fill="#ff00ff"/>
<path d="M378.59 321.72L380.94 317.49L376.24 317.49Z" fill="#ff00ff"/>
<path d="M386.83 316.38L389.18 312.15L384.48 312.15Z" fill="#ff00ff"/>
<path d="M395.07 312.52L397.42 308.29L392.72 308.29Z" fill="#ff00ff"/>
<path d="M403.31 309.34L405.66 305.11L400.95 305.11Z" fill="#ff00ff"/>
<path d="M411.54 307.64L413.89 303.41L409.19 303.41Z" fill="#ff00ff"/>
<path d="M419.78 306.39L422.13 302.16L417.43 302.16Z" fill="#ff00ff"/>
<path d="M428.02 305.14L430.37 300.91L425.67 300.91Z" fill="#ff00ff"/>
<path d="M436.25 304.80L438.61 300.57L433.90 300.57Z" fill="#ff00ff"/>
<path d="M444.49 304.80L446.84 300.57L442.14 300.57Z" fill="#ff00ff"/>
<path d="M452.73 305.14L455.08 300.91L450.38 300.91Z" fill="#ff00ff"/>
<path d="M460.97 306.39L463.32 302.16L458.62 302.16Z" fill="#ff00ff"/>
<path d="M469.20 307.30L471.56 303.07L466.85 303.07Z" fill="#ff00ff"/>
<path d="M477.44 308.55L479.79 304.32L475.09 304.32Z" fill="#ff00ff"/>
<path d="M485.68 309.34L488.03 305.11L483.33 305.11Z" fill="#ff00ff"/>
<path d="M493.92 310.48L496.27 306.25L491.57 306.25Z" fill="#ff00ff"/>
<path d="M502.15 311.73L504.50 307.50L499.80 307.50Z" fill="#ff00ff"/>
<path d="M510.39 312.52L512.74 308.29L508.04 308.29Z" fill="#ff00ff"/>
<path d="M518.63 313.77L520.98 309.54L516.28 309.54Z" fill="#ff00ff"/>
<path d="M526.87 315.25L529.22 311.02L524.52 311.02Z" fill="#ff00ff"/>
<path d="M535.11 316.50L537.46 312.27L532.75 312.27Z" fill="#ff00ff"/>
<rect x="190.00" y="99.40" width="48.20" height="52.80" fill="#fff" stroke="#666" stroke-width="0.9"/>
<path d="M190.80 104.20H199.40" stroke="#000" stroke-width="0.7" stroke-opacity="0.5"/>
<rect x="192.98" y="102.59" width="3.23" height="3.23" fill="#000"/>
<text x="201.80" y="106.71" font-size="7.6" textLength="34.40" lengthAdjust="spacingAndGlyphs" style="stroke-width:0.08px">PZ = 0.2 μm</text>
<path d="M190.80 113.06H199.40" stroke="#f00" stroke-width="0.7" stroke-opacity="0.5"/>
<circle cx="194.60" cy="113.06" r="1.90" fill="#f00"/>
<text x="201.80" y="115.57" font-size="7.6" textLength="34.40" lengthAdjust="spacingAndGlyphs" style="stroke-width:0.08px">PZ = 0.3 μm</text>
<path d="M190.80 121.92H199.40" stroke="#00f" stroke-width="0.7" stroke-opacity="0.5"/>
<path d="M194.60 119.69L196.83 123.71L192.37 123.71Z" fill="#00f"/>
<text x="201.80" y="124.43" font-size="7.6" textLength="34.40" lengthAdjust="spacingAndGlyphs" style="stroke-width:0.08px">PZ = 0.4 μm</text>
<path d="M190.80 130.78H199.40" stroke="#f0f" stroke-width="0.7" stroke-opacity="0.5"/>
<path d="M194.60 133.01L196.83 128.99L192.37 128.99Z" fill="#f0f"/>
<text x="201.80" y="133.29" font-size="7.6" textLength="34.40" lengthAdjust="spacingAndGlyphs" style="stroke-width:0.08px">PZ = 0.5 μm</text>
<path d="M190.80 139.64H199.40" stroke="#008000" stroke-width="0.7" stroke-opacity="0.5"/>
<path d="M194.60 137.55L196.69 139.64L194.60 141.73L192.51 139.64Z" fill="#008000"/>
<text x="201.80" y="142.15" font-size="7.6" textLength="34.40" lengthAdjust="spacingAndGlyphs" style="stroke-width:0.08px">PZ = 0.6 μm</text>
<path d="M190.80 148.50H199.40" stroke="#000080" stroke-width="0.7" stroke-opacity="0.5"/>
<path d="M192.37 148.50L196.39 146.27L196.39 150.73Z" fill="#000080"/>
<text x="201.80" y="151.01" font-size="7.6" textLength="34.40" lengthAdjust="spacingAndGlyphs" style="stroke-width:0.08px">PZ = 0.7 μm</text>
<rect x="191.50" y="324.30" width="47.00" height="50.30" fill="#fff" stroke="#666" stroke-width="0.9"/>
<path d="M192.30 329.00H201.20" stroke="#000" stroke-width="0.7" stroke-opacity="0.5"/>
<rect x="194.98" y="327.38" width="3.23" height="3.23" fill="#000"/>
<text x="202.80" y="331.44" font-size="7.4" textLength="33.20" lengthAdjust="spacingAndGlyphs" style="stroke-width:0.08px">PZ = 0.2 μm</text>
<path d="M192.30 337.50H201.20" stroke="#f00" stroke-width="0.7" stroke-opacity="0.5"/>
<circle cx="196.60" cy="337.50" r="1.90" fill="#f00"/>
<text x="202.80" y="339.94" font-size="7.4" textLength="33.20" lengthAdjust="spacingAndGlyphs" style="stroke-width:0.08px">PZ = 0.3 μm</text>
<path d="M192.30 346.00H201.20" stroke="#00f" stroke-width="0.7" stroke-opacity="0.5"/>
<path d="M196.60 343.77L198.83 347.79L194.37 347.79Z" fill="#00f"/>
<text x="202.80" y="348.44" font-size="7.4" textLength="33.20" lengthAdjust="spacingAndGlyphs" style="stroke-width:0.08px">PZ = 0.4 μm</text>
<path d="M192.30 354.50H201.20" stroke="#f0f" stroke-width="0.7" stroke-opacity="0.5"/>
<path d="M196.60 356.73L198.83 352.71L194.37 352.71Z" fill="#f0f"/>
<text x="202.80" y="356.94" font-size="7.4" textLength="33.20" lengthAdjust="spacingAndGlyphs" style="stroke-width:0.08px">PZ = 0.5 μm</text>
<path d="M192.30 363.00H201.20" stroke="#008000" stroke-width="0.7" stroke-opacity="0.5"/>
<path d="M196.60 360.91L198.69 363.00L196.60 365.09L194.51 363.00Z" fill="#008000"/>
<text x="202.80" y="365.44" font-size="7.4" textLength="33.20" lengthAdjust="spacingAndGlyphs" style="stroke-width:0.08px">PZ = 0.6 μm</text>
<path d="M192.30 371.50H201.20" stroke="#000080" stroke-width="0.7" stroke-opacity="0.5"/>
<path d="M194.37 371.50L198.39 369.27L198.39 373.73Z" fill="#000080"/>
<text x="202.80" y="373.94" font-size="7.4" textLength="33.20" lengthAdjust="spacingAndGlyphs" style="stroke-width:0.08px">PZ = 0.7 μm</text>
<rect x="468.40" y="101.00" width="65.10" height="49.20" fill="#fff" stroke="#666" stroke-width="0.9"/>
<path d="M469.70 110.80H481.50" stroke="#000" stroke-width="0.7" stroke-opacity="0.5"/>
<rect x="474.37" y="109.27" width="3.06" height="3.06" fill="#000"/>
<text x="485.00" y="113.77" font-size="9">PZ = 0.3 μm</text>
<path d="M469.70 122.60H481.50" stroke="#f00" stroke-width="0.7" stroke-opacity="0.5"/>
<circle cx="475.90" cy="122.60" r="1.80" fill="#f00"/>
<text x="485.00" y="125.57" font-size="9">PZ = 0.5 μm</text>
<path d="M469.70 134.40H481.50" stroke="#00f" stroke-width="0.7" stroke-opacity="0.5"/>
<path d="M475.90 132.28L478.01 136.09L473.78 136.09Z" fill="#00f"/>
<text x="485.00" y="137.37" font-size="9">PZ = 0.7 μm</text>
<path d="M469.70 146.20H481.50" stroke="#f0f" stroke-width="0.7" stroke-opacity="0.5"/>
<path d="M475.90 148.31L478.01 144.51L473.78 144.51Z" fill="#f0f"/>
<text x="485.00" y="149.17" font-size="9">PZ = 1 μm</text>
<rect x="466.60" y="324.00" width="66.60" height="49.90" fill="#fff" stroke="#666" stroke-width="0.9"/>
<path d="M472.70 334.10H485.80" stroke="#000" stroke-width="0.7" stroke-opacity="0.5"/>
<rect x="477.47" y="332.57" width="3.06" height="3.06" fill="#000"/>
<text x="488.20" y="337.07" font-size="9">PZ = 0.3μm</text>
<path d="M472.70 345.75H485.80" stroke="#f00" stroke-width="0.7" stroke-opacity="0.5"/>
<circle cx="479.00" cy="345.75" r="1.80" fill="#f00"/>
<text x="488.20" y="348.72" font-size="9">PZ = 0.5μm</text>
<path d="M472.70 357.40H485.80" stroke="#00f" stroke-width="0.7" stroke-opacity="0.5"/>
<path d="M479.00 355.29L481.12 359.09L476.88 359.09Z" fill="#00f"/>
<text x="488.20" y="360.37" font-size="9">PZ = 0.7μm</text>
<path d="M472.70 369.05H485.80" stroke="#f0f" stroke-width="0.7" stroke-opacity="0.5"/>
<path d="M479.00 371.17L481.12 367.36L476.88 367.36Z" fill="#f0f"/>
<text x="488.20" y="372.02" font-size="9">PZ = 1μm</text>
<text transform="translate(15.40,90.00) rotate(-90)" text-anchor="middle" font-size="14.7">Pressure (Pa)</text>
<text transform="translate(315.60,89.20) rotate(-90)" text-anchor="middle" font-size="15.2">Potential (mV)</text>
<text transform="translate(17.60,312.00) rotate(-90)" text-anchor="middle" font-size="15.2">Pressure (Pa)</text>
<text transform="translate(313.60,311.80) rotate(-90)" text-anchor="middle" font-size="15.2">Potential (mV)</text>
<text x="89.20" y="183.40" font-size="14.9">BE thickness</text><text x="172.10" y="182.95" font-size="10.5">(</text><text x="175.70" y="183.40" font-size="13" textLength="19.3" lengthAdjust="spacingAndGlyphs">μm</text><text x="195.60" y="182.95" font-size="10.5">)</text>
<text x="385.80" y="184.50" font-size="14.7">BE thickness</text><text x="467.40" y="184.05" font-size="10.5">(</text><text x="471.00" y="184.50" font-size="13" textLength="19.3" lengthAdjust="spacingAndGlyphs">μm</text><text x="490.90" y="184.05" font-size="10.5">)</text>
<text x="89.60" y="407.60" font-size="15.0">SL thickness</text><text x="171.50" y="407.15" font-size="10.5">(</text><text x="175.10" y="407.60" font-size="13" textLength="19.3" lengthAdjust="spacingAndGlyphs">μm</text><text x="195.00" y="407.15" font-size="10.5">)</text>
<text x="386.30" y="406.20" font-size="14.8">SL thickness</text><text x="466.50" y="405.75" font-size="10.5">(</text><text x="470.10" y="406.20" font-size="13" textLength="19.3" lengthAdjust="spacingAndGlyphs">μm</text><text x="490.00" y="405.75" font-size="10.5">)</text>
<text x="133.90" y="202.00" font-size="13.4" text-anchor="middle">(<tspan font-weight="bold">a</tspan>)</text>
<text x="419.80" y="202.20" font-size="13.4" text-anchor="middle">(<tspan font-weight="bold">b</tspan>)</text>
<text x="147.50" y="425.10" font-size="13.4" text-anchor="middle">(<tspan font-weight="bold">c</tspan>)</text>
<text x="426.20" y="424.90" font-size="13.4" text-anchor="middle">(<tspan font-weight="bold">d</tspan>)</text>
</svg>
</body></html>
